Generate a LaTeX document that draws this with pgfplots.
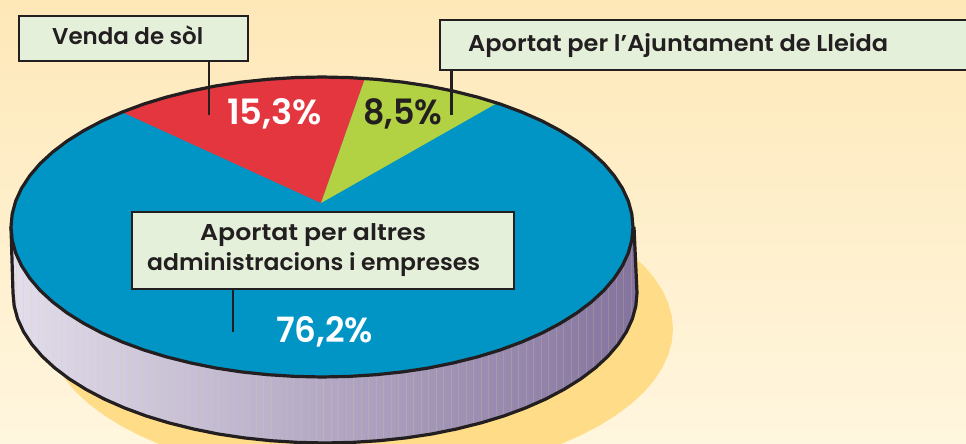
\documentclass[border=0pt]{standalone}
\usepackage{fontspec}
\usepackage{pgfplots}
\pgfplotsset{compat=1.18}
\setmainfont{Poppins SemiBold}
\definecolor{bgtop}{HTML}{FEE8B8}
\definecolor{bgbot}{HTML}{FFF6DF}
\definecolor{shadowc}{HTML}{FFDC88}
\definecolor{pieblue}{HTML}{0095C4}
\definecolor{piered}{HTML}{E4363F}
\definecolor{piegreen}{HTML}{B3D243}
\definecolor{boxc}{HTML}{E5F0DB}
\definecolor{ink}{HTML}{231F20}
\definecolor{rimL}{HTML}{E2DEEC}
\definecolor{rimM}{HTML}{B0A5C6}
\definecolor{rimR}{HTML}{83739E}
\newcommand{\fit}[2]{\resizebox{#1bp}{\height}{#2}}
\begin{document}
\begin{tikzpicture}[x=1bp,y=1bp]
\begin{axis}[
  scale only axis, width=966bp, height=444bp,
  xmin=0, xmax=966, ymin=0, ymax=444, y dir=reverse,
  hide axis, clip=true,
]
% background
\addplot[draw=none, top color=bgtop, bottom color=bgbot, forget plot] coordinates {(0,0)(966,0)(966,444)(0,444)} -- cycle;
% shadow
\addplot[draw=none, fill=shadowc, forget plot] coordinates {(360,179)(516.5,199.1)(581.3,222.9)(599.8,232.6)(616.4,243)(631,254)(643.7,265.6)(654.1,277.7)(662.3,290.2)(668.2,303)(671.8,315.9)(673,329)(671.8,342.1)(668.2,355)(662.3,367.8)(654.1,380.3)(643.7,392.4)(631,404)(616.4,415)(599.8,425.4)(581.3,435.1)(561.2,443.9)(539.5,451.9)(360,479)(180.5,451.9)(158.8,443.9)(138.7,435.1)(120.2,425.4)(103.6,415)(89,404)(76.3,392.4)(65.9,380.3)(57.7,367.8)(51.8,355)(48.2,342.1)(47,329)} -- cycle;
% rim
\addplot[draw=none, left color=rimL, middle color=rimM, right color=rimR, forget plot] coordinates {(634,227)(637,293)(635.8,306.1)(632.3,319)(626.4,331.8)(618.2,344.3)(607.8,356.4)(595.2,368)(580.6,379)(564,389.4)(545.6,399.1)(525.6,407.9)(504,415.9)(481,422.9)(456.9,428.9)(431.7,434)(405.7,437.9)(379.2,440.7)(352.2,442.4)(325,443)(297.8,442.4)(270.8,440.7)(244.3,437.9)(218.3,434)(193.1,428.9)(169,422.9)(146,415.9)(124.4,407.9)(104.4,399.1)(86,389.4)(69.4,379)(54.8,368)(42.2,356.4)(31.8,344.3)(23.6,331.8)(17.7,319)(14.2,306.1)(13,293)(11,227)} -- cycle;
% rim texture
\pgfplotsforeachungrouped \hx in {16,23.5,...,634}{%
  \pgfmathsetmacro{\hy}{293+150*sqrt(max(0,1-((\hx-325)/312)^2))-2}%
  \edef\hatch{\noexpand\draw[color=bgtop!70!brown, opacity=.22, line width=.5bp] (axis cs:\hx,230) -- (axis cs:\hx,\hy);}%
  \hatch
}
\addplot[ink, line width=3.2bp, line join=round, forget plot] coordinates {(634,227)(637,293)(635.8,306.1)(632.3,319)(626.4,331.8)(618.2,344.3)(607.8,356.4)(595.2,368)(580.6,379)(564,389.4)(545.6,399.1)(525.6,407.9)(504,415.9)(481,422.9)(456.9,428.9)(431.7,434)(405.7,437.9)(379.2,440.7)(352.2,442.4)(325,443)(297.8,442.4)(270.8,440.7)(244.3,437.9)(218.3,434)(193.1,428.9)(169,422.9)(146,415.9)(124.4,407.9)(104.4,399.1)(86,389.4)(69.4,379)(54.8,368)(42.2,356.4)(31.8,344.3)(23.6,331.8)(17.7,319)(14.2,306.1)(13,293)(11,227)};
% blue slice: whole top ellipse
\addplot[draw=none, fill=pieblue, forget plot] coordinates {(633,227)(631.8,213.9)(628.3,201)(622.4,188.2)(614.2,175.7)(603.9,163.6)(591.3,152)(576.8,141)(560.2,130.6)(541.9,120.9)(521.9,112.1)(500.4,104.1)(477.5,97.1)(453.4,91.1)(428.4,86)(402.5,82.1)(376,79.3)(349.1,77.6)(322,77)(294.9,77.6)(268,79.3)(241.5,82.1)(215.6,86)(190.6,91.1)(166.5,97.1)(143.6,104.1)(122.1,112.1)(102.1,120.9)(83.8,130.6)(67.2,141)(52.7,152)(40.1,163.6)(29.8,175.7)(21.6,188.2)(15.7,201)(12.2,213.9)(11,227)(12.2,240.1)(15.7,253)(21.6,265.8)(29.8,278.3)(40.1,290.4)(52.7,302)(67.2,313)(83.8,323.4)(102.1,333.1)(122.1,341.9)(143.6,349.9)(166.5,356.9)(190.6,362.9)(215.6,368)(241.5,371.9)(268,374.7)(294.9,376.4)(322,377)(349.1,376.4)(376,374.7)(402.5,371.9)(428.4,368)(453.4,362.9)(477.5,356.9)(500.4,349.9)(521.9,341.9)(541.9,333.1)(560.2,323.4)(576.8,313)(591.3,302)(603.9,290.4)(614.2,278.3)(622.4,265.8)(628.3,253)(631.8,240.1)} -- cycle;
% red slice
\addplot[draw=none, fill=piered, forget plot] coordinates {(321,203)(122.1,112.1)(143.6,104.1)(166.5,97.1)(190.6,91.1)(215.6,86)(241.5,82.1)(268,79.3)(294.9,77.6)(322,77)(349.1,77.6)(365,78.5)} -- cycle;
% green slice
\addplot[draw=none, fill=piegreen, forget plot] coordinates {(321,203)(365,78.5)(376,79.3)(402.5,82.1)(428.4,86)(453.4,91.1)(477.5,97.1)(497,103.1)} -- cycle;
% ellipse outline
\addplot[ink, line width=3.2bp, line join=round, forget plot] coordinates {(633,227)(631.8,213.9)(628.3,201)(622.4,188.2)(614.2,175.7)(603.9,163.6)(591.3,152)(576.8,141)(560.2,130.6)(541.9,120.9)(521.9,112.1)(500.4,104.1)(477.5,97.1)(453.4,91.1)(428.4,86)(402.5,82.1)(376,79.3)(349.1,77.6)(322,77)(294.9,77.6)(268,79.3)(241.5,82.1)(215.6,86)(190.6,91.1)(166.5,97.1)(143.6,104.1)(122.1,112.1)(102.1,120.9)(83.8,130.6)(67.2,141)(52.7,152)(40.1,163.6)(29.8,175.7)(21.6,188.2)(15.7,201)(12.2,213.9)(11,227)(12.2,240.1)(15.7,253)(21.6,265.8)(29.8,278.3)(40.1,290.4)(52.7,302)(67.2,313)(83.8,323.4)(102.1,333.1)(122.1,341.9)(143.6,349.9)(166.5,356.9)(190.6,362.9)(215.6,368)(241.5,371.9)(268,374.7)(294.9,376.4)(322,377)(349.1,376.4)(376,374.7)(402.5,371.9)(428.4,368)(453.4,362.9)(477.5,356.9)(500.4,349.9)(521.9,341.9)(541.9,333.1)(560.2,323.4)(576.8,313)(591.3,302)(603.9,290.4)(614.2,278.3)(622.4,265.8)(628.3,253)(631.8,240.1)} -- cycle;
% leaders
\addplot[ink, line width=2.2bp, forget plot] coordinates {(209,61)(209,115)};
\addplot[ink, line width=2.2bp, forget plot] coordinates {(451.5,70)(451.5,115)};
\addplot[ink, line width=2.2bp, forget plot] coordinates {(233,289)(233,332)};
% boxes
\addplot[ink, line width=2.6bp, fill=boxc, forget plot] coordinates {(19,16)(248,16)(248,61)(19,61)} -- cycle;
\addplot[ink, line width=2.6bp, fill=boxc, forget plot] coordinates {(440,20)(975,20)(975,70)(440,70)} -- cycle;
\addplot[ink, line width=2.6bp, fill=boxc, forget plot] coordinates {(132,212)(514,212)(514,289)(132,289)} -- cycle;
% labels
\tikzset{lab/.style={anchor=base west, inner sep=0pt, text=ink}}
\node[lab, font=\fontsize{23}{23}\selectfont] at (axis cs:52,45) {\fit{151}{Venda de sòl}};
\node[lab, font=\fontsize{23}{23}\selectfont] at (axis cs:468,52) {\fit{420}{Aportat per l’Ajuntament de Lleida}};
\node[lab, font=\fontsize{23}{23}\selectfont] at (axis cs:200,240) {\fit{226}{Aportat per altres}};
\node[lab, font=\fontsize{23}{23}\selectfont] at (axis cs:147,270) {\fit{333}{administracions i empreses}};
\node[lab, text=white, font=\fontsize{35}{35}\selectfont] at (axis cs:227,125) {\fit{95}{15,3\%}};
\node[lab, font=\fontsize{35}{35}\selectfont] at (axis cs:363,125) {\fit{79}{8,5\%}};
\node[lab, text=white, font=\fontsize{35}{35}\selectfont] at (axis cs:276,342) {\fit{97}{76,2\%}};
\end{axis}
\end{tikzpicture}
\end{document}
